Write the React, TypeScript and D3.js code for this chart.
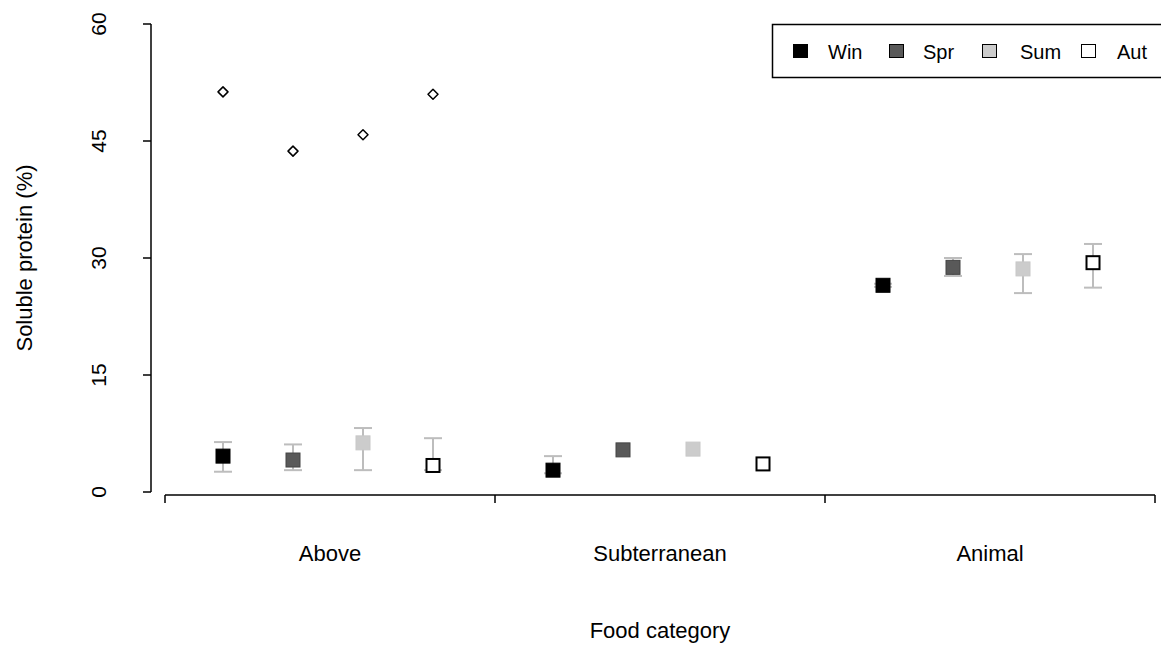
import React from "react";
import * as d3 from "d3";

const categories = ["Above", "Subterranean", "Animal"];
const seasons = ["Win", "Spr", "Sum", "Aut"];
// mean values per category, one array per season
const winMean = [4.6, 2.8, 26.5];
const sprMean = [4.1, 5.4, 28.8];
const sumMean = [6.3, 5.5, 28.6];
const autMean = [3.4, 3.6, 29.4];
// upper / lower error bar ends
const winUpper = [6.4, 4.6, 26.7];
const winLower = [2.6, 2.4, 26.3];
const sprUpper = [6.1, 5.4, 30.0];
const sprLower = [2.8, 5.4, 27.7];
const sumUpper = [8.2, 5.5, 30.5];
const sumLower = [2.8, 5.5, 25.5];
const autUpper = [6.9, 3.6, 31.8];
const autLower = [2.8, 3.6, 26.2];
// outliers (Above category)
const outlierValues = [51.3, 43.7, 45.8, 51.0];
const yTicks = [0, 15, 30, 45, 60];

const means = [winMean, sprMean, sumMean, autMean];
const uppers = [winUpper, sprUpper, sumUpper, autUpper];
const lowers = [winLower, sprLower, sumLower, autLower];

const fills = ["#000000", "#595959", "#cccccc", "#ffffff"];
const strokes = ["#000000", "#444444", "#c8c8c8", "#000000"];
const strokeW = [1, 1, 1, 2];

const FONT = "'Liberation Sans', Arial, sans-serif";

export default function App() {
  const W = 1161, H = 645;
  const x = d3.scaleBand().domain(categories).range([165, 1155]);
  const inner = d3.scalePoint().domain(seasons).range([-107, 103]);
  const y = d3.scaleLinear().domain([0, 60]).range([492, 24]);
  const xPos = (c: string, s: string) => (x(c) as number) + x.bandwidth() / 2 + (inner(s) as number);
  const box = 15;
  const cap = 9;
  const boundaries = [0, 1, 2, 3].map((i) => 165 + i * x.bandwidth());

  return (
    <svg width={W} height={H} style={{ position: "absolute", left: 0, top: 0, background: "#fff" }} fontFamily={FONT}>
      <rect width={W} height={H} fill="#fff" />
      {/* y axis */}
      <line x1={151} x2={151} y1={y(60)} y2={y(0)} stroke="#000" strokeWidth={1.5} />
      {yTicks.map((t) => (
        <g key={t}>
          <line x1={143} x2={151} y1={y(t)} y2={y(t)} stroke="#000" strokeWidth={1.5} />
          <text transform={`translate(106,${y(t)}) rotate(-90)`} textAnchor="middle" fontSize={21} fill="#000">
            {t}
          </text>
        </g>
      ))}
      <text transform={`translate(32,${(y(0) + y(60)) / 2}) rotate(-90)`} textAnchor="middle" fontSize={22} fill="#000">
        Soluble protein (%)
      </text>
      {/* x axis */}
      <line x1={165} x2={1155} y1={495} y2={495} stroke="#000" strokeWidth={1.5} />
      {boundaries.map((b, i) => (
        <line key={i} x1={b} x2={b} y1={495} y2={503} stroke="#000" strokeWidth={1.5} />
      ))}
      {categories.map((c) => (
        <text key={c} x={(x(c) as number) + x.bandwidth() / 2} y={561} textAnchor="middle" fontSize={22} fill="#000">
          {c}
        </text>
      ))}
      <text x={660} y={638} textAnchor="middle" fontSize={22} fill="#000">
        Food category
      </text>
      {/* error bars */}
      {seasons.map((s, j) =>
        categories.map((c, i) => {
          const cx = xPos(c, s);
          if (uppers[j][i] - lowers[j][i] < 0.01) return null;
          return (
            <g key={s + c} stroke="#bdbdbd" strokeWidth={2}>
              <line x1={cx} x2={cx} y1={y(uppers[j][i])} y2={y(lowers[j][i])} />
              <line x1={cx - cap} x2={cx + cap} y1={y(uppers[j][i])} y2={y(uppers[j][i])} />
              <line x1={cx - cap} x2={cx + cap} y1={y(lowers[j][i])} y2={y(lowers[j][i])} />
            </g>
          );
        })
      )}
      {/* mean squares */}
      {seasons.map((s, j) =>
        categories.map((c, i) => {
          const cx = xPos(c, s);
          const cy = y(means[j][i]);
          const sw = strokeW[j];
          return (
            <rect
              key={"m" + s + c}
              x={cx - box / 2 + sw / 2}
              y={cy - box / 2 + sw / 2}
              width={box - sw}
              height={box - sw}
              fill={fills[j]}
              stroke={strokes[j]}
              strokeWidth={sw}
            />
          );
        })
      )}
      {/* outliers */}
      {seasons.map((s, j) => {
        const cx = xPos("Above", s);
        const cy = y(outlierValues[j]);
        const r = 5;
        return (
          <path
            key={"o" + s}
            d={`M${cx},${cy - r}L${cx + r},${cy}L${cx},${cy + r}L${cx - r},${cy}Z`}
            fill="none"
            stroke="#000"
            strokeWidth={1.5}
            strokeLinejoin="round"
          />
        );
      })}
      {/* legend */}
      <rect x={772.5} y={24.5} width={395} height={53} fill="#fff" stroke="#000" strokeWidth={1.5} />
      {seasons.map((s, j) => {
        const lx = [793, 889, 982, 1081][j];
        const tx = [828, 923, 1020, 1117][j];
        return (
          <g key={"l" + s}>
            <rect x={lx + 0.5} y={44.5} width={14} height={13} fill={fills[j]} stroke="#000" strokeWidth={1} />
            <text x={tx} y={59} fontSize={20} fill="#000">
              {s}
            </text>
          </g>
        );
      })}
    </svg>
  );
}
